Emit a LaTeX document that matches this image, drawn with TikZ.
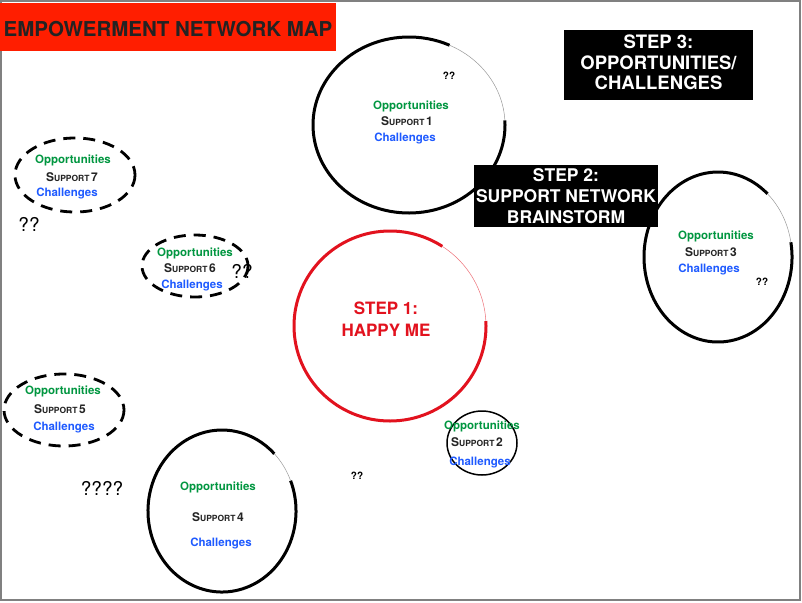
\documentclass[tikz,border=0pt]{standalone}
\usepackage{fontspec}
\setmainfont{TeX Gyre Heros}
\usepackage{xcolor}
\definecolor{cTitle}{RGB}{255,30,0}
\definecolor{cOpp}{RGB}{0,150,64}
\definecolor{cChal}{RGB}{30,90,255}
\definecolor{cMe}{RGB}{226,18,30}
\definecolor{cSupp}{RGB}{35,35,35}
\definecolor{cFrame}{RGB}{128,128,128}
\newcommand{\suppname}[1]{{\fontsize{12}{12}\selectfont S}{\fontsize{8.5}{10}\selectfont UPPORT}\,{\fontsize{12}{12}\selectfont #1}}

\begin{document}
\begin{tikzpicture}[x=1pt, y=-1pt,
      opp/.style={text=cOpp, font=\bfseries\fontsize{11.5}{12}\selectfont},
      chal/.style={text=cChal, font=\bfseries\fontsize{11.5}{12}\selectfont},
      supp/.style={text=cSupp, font=\bfseries},
      ring/.style={line width=3pt},
      faint/.style={line width=0.5pt, gray!80},
      dashring/.style={line width=2.8pt, dash pattern=on 12pt off 8pt},
      qq/.style={font=\fontsize{19}{19}\selectfont},
      qqb/.style={font=\bfseries\fontsize{10}{10}\selectfont},
      stepbox/.style={fill=black, text=white, align=center, inner sep=0pt}
    ]
    \useasboundingbox (0,0) rectangle (802,602);
    \fill[white] (0,0) rectangle (802,602);
    \draw[cFrame, line width=2pt] (1,1) rectangle (800,600);

    % title
    \node[fill=cTitle, minimum width=336pt, minimum height=48pt, inner sep=0pt, text height=20pt,
          text=cSupp, font=\bfseries\fontsize{20.5}{20.5}\selectfont] (title) at (168,27)
          {EMPOWERMENT NETWORK MAP};

    % step 1
    \draw[ring, cMe] (390,326) ++(-3:96 and 95) arc[start angle=-3, end angle=303, x radius=96, y radius=95];
    \draw[faint, cMe!60] (390,326) ++(-57:96 and 95) arc[start angle=-57, end angle=-3, x radius=96, y radius=95];
    \node[text=cMe, align=center, font=\bfseries\fontsize{17}{22}\selectfont] (me) at (386,319)
          {STEP 1:\\HAPPY ME};

    % step 2 and 3
    \node[stepbox, minimum width=184pt, minimum height=62pt,
          font=\bfseries\fontsize{17.5}{21}\selectfont] (step2) at (566,196)
          {STEP 2:\\SUPPORT NETWORK\\BRAINSTORM};
    \node[stepbox, minimum width=189pt, minimum height=70pt, text depth=5pt,
          font=\bfseries\fontsize{18.5}{20.5}\selectfont] (step3) at (658.5,65)
          {STEP 3:\\OPPORTUNITIES/\\CHALLENGES};

    % support 1
    \draw[ring] (409,125) ++(-3:96 and 88) arc[start angle=-3, end angle=295, x radius=96, y radius=88];
    \draw[faint] (409,125) ++(-65:96 and 88) arc[start angle=-65, end angle=-3, x radius=96, y radius=88];
    \node[opp] (opp1) at (411,106) {Opportunities};
    \node[supp] (sup1) at (407,121) {\suppname{1}};
    \node[chal] (chal1) at (405,138) {Challenges};
    \node[qqb] (q1) at (449,76) {??};

    % support 2
    \draw[line width=1.5pt] (482,443) ellipse[x radius=35, y radius=32];
    \node[opp] (opp2) at (482,426) {Opportunities};
    \node[supp] (sup2) at (477,442) {\suppname{2}};
    \node[chal] (chal2) at (480,462) {Challenges};
    \node[qqb] (q2) at (357,476) {??};

    % support 3
    \draw[ring] (718,257) ++(-10:74 and 85) arc[start angle=-10, end angle=312, x radius=74, y radius=85];
    \draw[faint] (718,257) ++(-48:74 and 85) arc[start angle=-48, end angle=-10, x radius=74, y radius=85];
    \node[opp] (opp3) at (716,236) {Opportunities};
    \node[supp] (sup3) at (711,252) {\suppname{3}};
    \node[chal] (chal3) at (709,269) {Challenges};
    \node[qqb] (q3) at (762,282) {??};

    % support 4
    \draw[ring] (222,511) ++(-22:74 and 81) arc[start angle=-22, end angle=315, x radius=74, y radius=81];
    \draw[faint] (222,511) ++(-45:74 and 81) arc[start angle=-45, end angle=-22, x radius=74, y radius=81];
    \node[opp] (opp4) at (218,487) {Opportunities};
    \node[supp] (sup4) at (218,517) {\suppname{4}};
    \node[chal] (chal4) at (221,543) {Challenges};
    \node[qq] (q4) at (102,488) {????};

    % supports 5 to 7
    \draw[dashring] (64,410) ellipse[x radius=60, y radius=36];
    \node[opp] (opp5) at (63,391) {Opportunities};
    \node[supp] (sup5) at (60,409) {\suppname{5}};
    \node[chal] (chal5) at (64,427) {Challenges};

    \draw[dashring] (195,266) ellipse[x radius=53, y radius=31];
    \node[opp] (opp6) at (195,253) {Opportunities};
    \node[supp] (sup6) at (190,268) {\suppname{6}};
    \node[chal] (chal6) at (192,285) {Challenges};
    \node[qq] (q6) at (242,271) {??};

    \draw[dashring] (75,175) ellipse[x radius=60, y radius=37];
    \node[opp] (opp7) at (73,160) {Opportunities};
    \node[supp] (sup7) at (72,177) {\suppname{7}};
    \node[chal] (chal7) at (67,193) {Challenges};
    \node[qq] (q7) at (29,224) {??};
  \end{tikzpicture}
\end{document}
